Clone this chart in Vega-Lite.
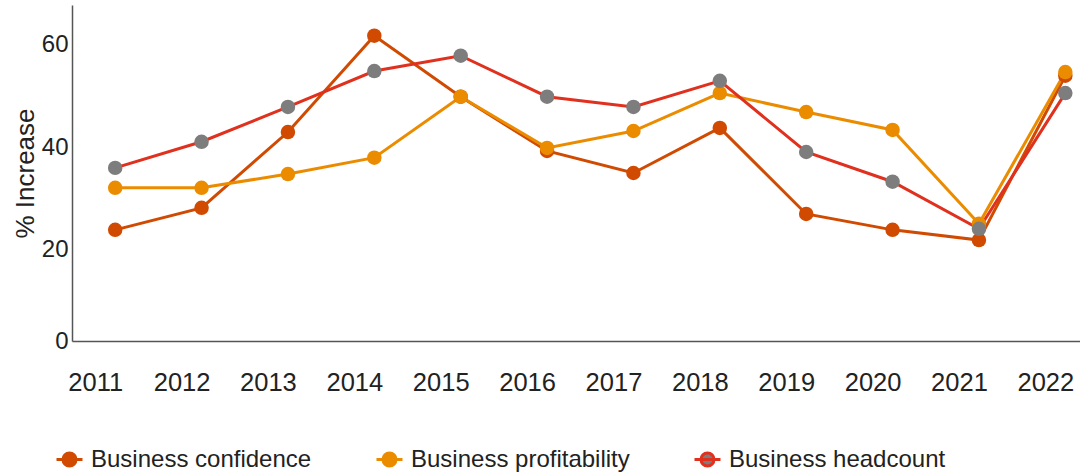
{
  "$schema": "https://vega.github.io/schema/vega-lite/v6.json",
  "width": 1008,
  "height": 336,
  "autosize": {"type": "none"},
  "padding": {"left": 72, "top": 5, "right": 0, "bottom": 133},
  "config": {"view": {"stroke": null}, "font": "Liberation Sans", "background": "white"},
  "data": {"values": [
    {"year": 2011, "series": "Business confidence", "value": 23.9},
    {"year": 2012, "series": "Business confidence", "value": 28.2},
    {"year": 2013, "series": "Business confidence", "value": 43.0},
    {"year": 2014, "series": "Business confidence", "value": 61.8},
    {"year": 2015, "series": "Business confidence", "value": 49.9},
    {"year": 2016, "series": "Business confidence", "value": 39.3},
    {"year": 2017, "series": "Business confidence", "value": 35.0},
    {"year": 2018, "series": "Business confidence", "value": 43.8},
    {"year": 2019, "series": "Business confidence", "value": 27.0},
    {"year": 2020, "series": "Business confidence", "value": 23.9},
    {"year": 2021, "series": "Business confidence", "value": 21.9},
    {"year": 2022, "series": "Business confidence", "value": 54.0},
    {"year": 2011, "series": "Business profitability", "value": 32.1},
    {"year": 2012, "series": "Business profitability", "value": 32.1},
    {"year": 2013, "series": "Business profitability", "value": 34.8},
    {"year": 2014, "series": "Business profitability", "value": 38.0},
    {"year": 2015, "series": "Business profitability", "value": 49.9},
    {"year": 2016, "series": "Business profitability", "value": 39.9},
    {"year": 2017, "series": "Business profitability", "value": 43.2},
    {"year": 2018, "series": "Business profitability", "value": 50.6},
    {"year": 2019, "series": "Business profitability", "value": 46.9},
    {"year": 2020, "series": "Business profitability", "value": 43.4},
    {"year": 2021, "series": "Business profitability", "value": 25.1},
    {"year": 2022, "series": "Business profitability", "value": 54.7},
    {"year": 2011, "series": "Business headcount", "value": 36.0},
    {"year": 2012, "series": "Business headcount", "value": 41.1},
    {"year": 2013, "series": "Business headcount", "value": 47.9},
    {"year": 2014, "series": "Business headcount", "value": 54.9},
    {"year": 2015, "series": "Business headcount", "value": 57.9},
    {"year": 2016, "series": "Business headcount", "value": 49.9},
    {"year": 2017, "series": "Business headcount", "value": 47.9},
    {"year": 2018, "series": "Business headcount", "value": 53.0},
    {"year": 2019, "series": "Business headcount", "value": 39.1},
    {"year": 2020, "series": "Business headcount", "value": 33.3},
    {"year": 2021, "series": "Business headcount", "value": 24.1},
    {"year": 2022, "series": "Business headcount", "value": 50.6}
  ]},
  "encoding": {
    "x": {
      "field": "year", "type": "quantitative",
      "scale": {"domain": [2010.5, 2022.17], "nice": false, "zero": false},
      "axis": {
        "values": [2011, 2012, 2013, 2014, 2015, 2016, 2017, 2018, 2019, 2020, 2021, 2022],
        "format": "d", "tickSize": 0, "labelFontSize": 25.5, "labelPadding": 29, "labelOffset": -20,
        "labelColor": "#222", "labelFlush": false, "domainColor": "#555", "domainWidth": 1.5,
        "grid": false, "title": null
      }
    },
    "y": {
      "field": "value", "type": "quantitative",
      "scale": {"domain": [2.2, 67.8], "nice": false, "zero": false},
      "axis": {
        "values": [2.2, 20, 40, 60],
        "labelExpr": "datum.value < 10 ? '0' : datum.label",
        "tickSize": 0, "labelPadding": 4, "labelFontSize": 24, "labelColor": "#222",
        "domainColor": "#555", "domainWidth": 1.5, "grid": false,
        "title": "% Increase", "titleFontSize": 26, "titleFontWeight": "normal",
        "titleColor": "#222", "titlePadding": 3
      }
    }
  },
  "layer": [
    {
      "mark": {"type": "line", "strokeWidth": 3},
      "encoding": {
        "stroke": {
          "field": "series", "type": "nominal",
          "scale": {"domain": ["Business confidence", "Business profitability", "Business headcount"],
                    "range": ["#D04A02", "#EB8C00", "#E0301E"]}
        }
      }
    },
    {
      "mark": {"type": "point", "filled": true, "size": 210, "opacity": 1},
      "encoding": {
        "fill": {
          "field": "series", "type": "nominal",
          "scale": {"domain": ["Business confidence", "Business profitability", "Business headcount"],
                    "range": ["#D04A02", "#EB8C00", "#7D7D7D"]},
          "legend": {
            "title": null, "orient": "none", "direction": "horizontal",
            "legendX": -17, "legendY": 440,
            "labelFontSize": 24, "labelColor": "#222", "labelOffset": 7,
            "columnPadding": 58, "labelLimit": 400,
            "symbolSize": 676, "symbolStrokeWidth": 3, "symbolOpacity": 1,
            "symbolType": "M-1,0 L1,0 M0.5,0 C0.5,0.2762 0.2762,0.5 0,0.5 C-0.2762,0.5 -0.5,0.2762 -0.5,0 C-0.5,-0.2762 -0.2762,-0.5 0,-0.5 C0.2762,-0.5 0.5,-0.2762 0.5,0 Z"
          }
        }
      }
    }
  ]
}
